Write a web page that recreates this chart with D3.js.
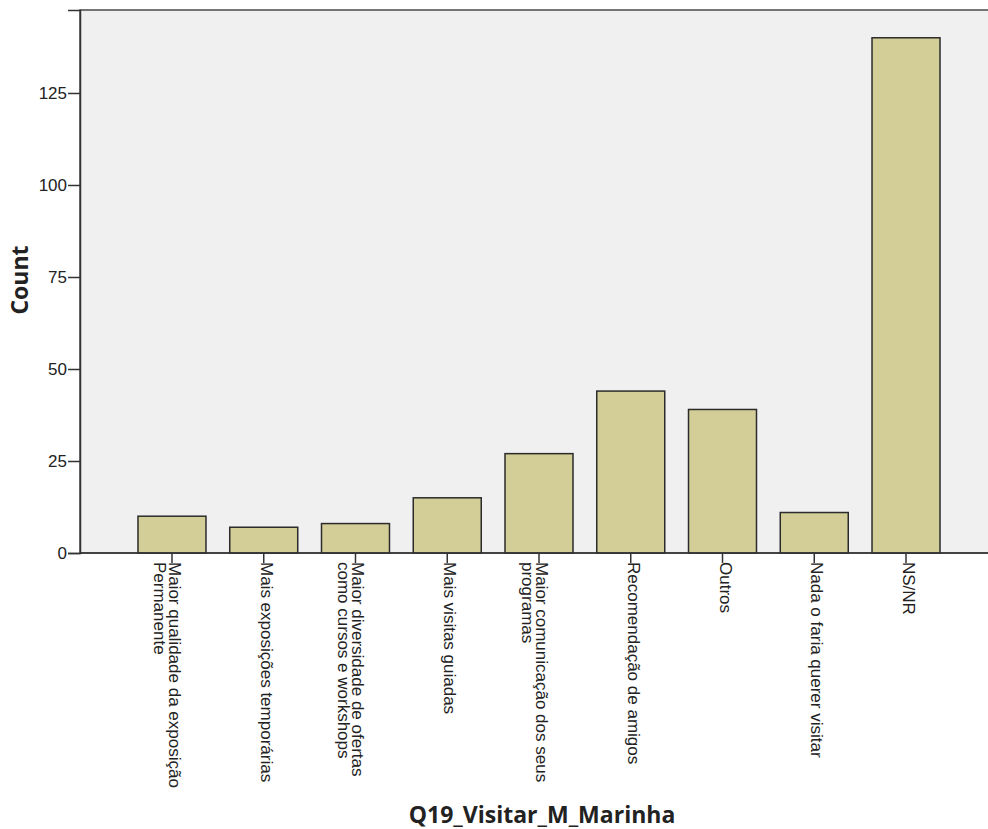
<!DOCTYPE html>
<html><head><meta charset="utf-8">
<script src="https://cdn.jsdelivr.net/npm/d3@7"></script>
<style>body{margin:0;background:#fff}svg{display:block;font-family:"Liberation Sans",Arial,sans-serif}</style>
</head><body><svg id="c" width="988" height="829"></svg>
<script>
const categories = [
  ["Maior qualidade da exposição","Permanente"],
  ["Mais exposições temporárias"],
  ["Maior diversidade de ofertas","como cursos e workshops"],
  ["Mais visitas guiadas"],
  ["Maior comunicação dos seus","programas"],
  ["Recomendação de amigos"],
  ["Outros"],
  ["Nada o faria querer visitar"],
  ["NS/NR"]
];
const counts = [10, 7, 8, 15, 27, 44, 39, 11, 140];
const yTicks = [0, 25, 50, 75, 100, 125];
const xTitle = "Q19_Visitar_M_Marinha";
const yTitle = "Count";

const svg = d3.select("#c");
const L = 80, R = 998, T = 10, B = 553;
const x = d3.scaleBand().domain(d3.range(categories.length)).range([L, R]).paddingInner(0.259).paddingOuter(0.632);
const y = d3.scaleLinear().domain([0, 147.55]).range([B, T]);

svg.append("rect").attr("x", L).attr("y", T).attr("width", R - L).attr("height", B - T)
  .attr("fill", "#f0f0f0").attr("stroke", "#4a4a4a").attr("stroke-width", 1.5);

svg.append("g").selectAll("rect").data(counts).join("rect")
  .attr("x", (d, i) => x(i)).attr("y", d => y(d))
  .attr("width", x.bandwidth()).attr("height", d => B - y(d))
  .attr("fill", "#d3ce97").attr("stroke", "#2b2b2b").attr("stroke-width", 1.5);

const ya = svg.append("g").attr("transform", `translate(${L},0)`)
  .call(d3.axisLeft(y).tickValues(yTicks).tickSize(12).tickPadding(1));
ya.select(".domain").attr("stroke", "#333").attr("stroke-width", 1.5);
ya.selectAll("line").attr("stroke", "#333").attr("stroke-width", 1.5);
ya.selectAll("text").attr("font-size", 17).attr("fill", "#222").attr("font-family", "Liberation Sans, Arial, sans-serif");

const xa = svg.append("g").attr("transform", `translate(0,${B})`)
  .call(d3.axisBottom(x).tickSize(10).tickFormat(""));
xa.select(".domain").remove();
xa.selectAll("line").attr("stroke", "#333").attr("stroke-width", 1.5);
svg.append("line").attr("x1", L).attr("x2", R).attr("y1", B).attr("y2", B).attr("stroke", "#333").attr("stroke-width", 1.5);

const lbl = svg.append("g");
categories.forEach((lines, i) => {
  const cx = x(i) + x.bandwidth() / 2;
  const t = lbl.append("text")
    .attr("transform", `translate(${cx - 3},${B + 9}) rotate(90)`)
    .attr("font-size", 17).attr("fill", "#222");
  lines.forEach((s, k) => t.append("tspan").attr("x", 0).attr("y", k * 14.5).text(s));
});

svg.append("text").attr("x", 542).attr("y", 823).attr("text-anchor", "middle")
  .attr("font-family", "Open Sans, sans-serif")
  .attr("font-size", 23).attr("font-weight", "bold").attr("fill", "#222").text(xTitle);
svg.append("text").attr("transform", "translate(28,280) rotate(-90)").attr("text-anchor", "middle")
  .attr("font-family", "Open Sans, sans-serif")
  .attr("font-size", 23).attr("font-weight", "bold").attr("fill", "#222").text(yTitle);
</script></body></html>
